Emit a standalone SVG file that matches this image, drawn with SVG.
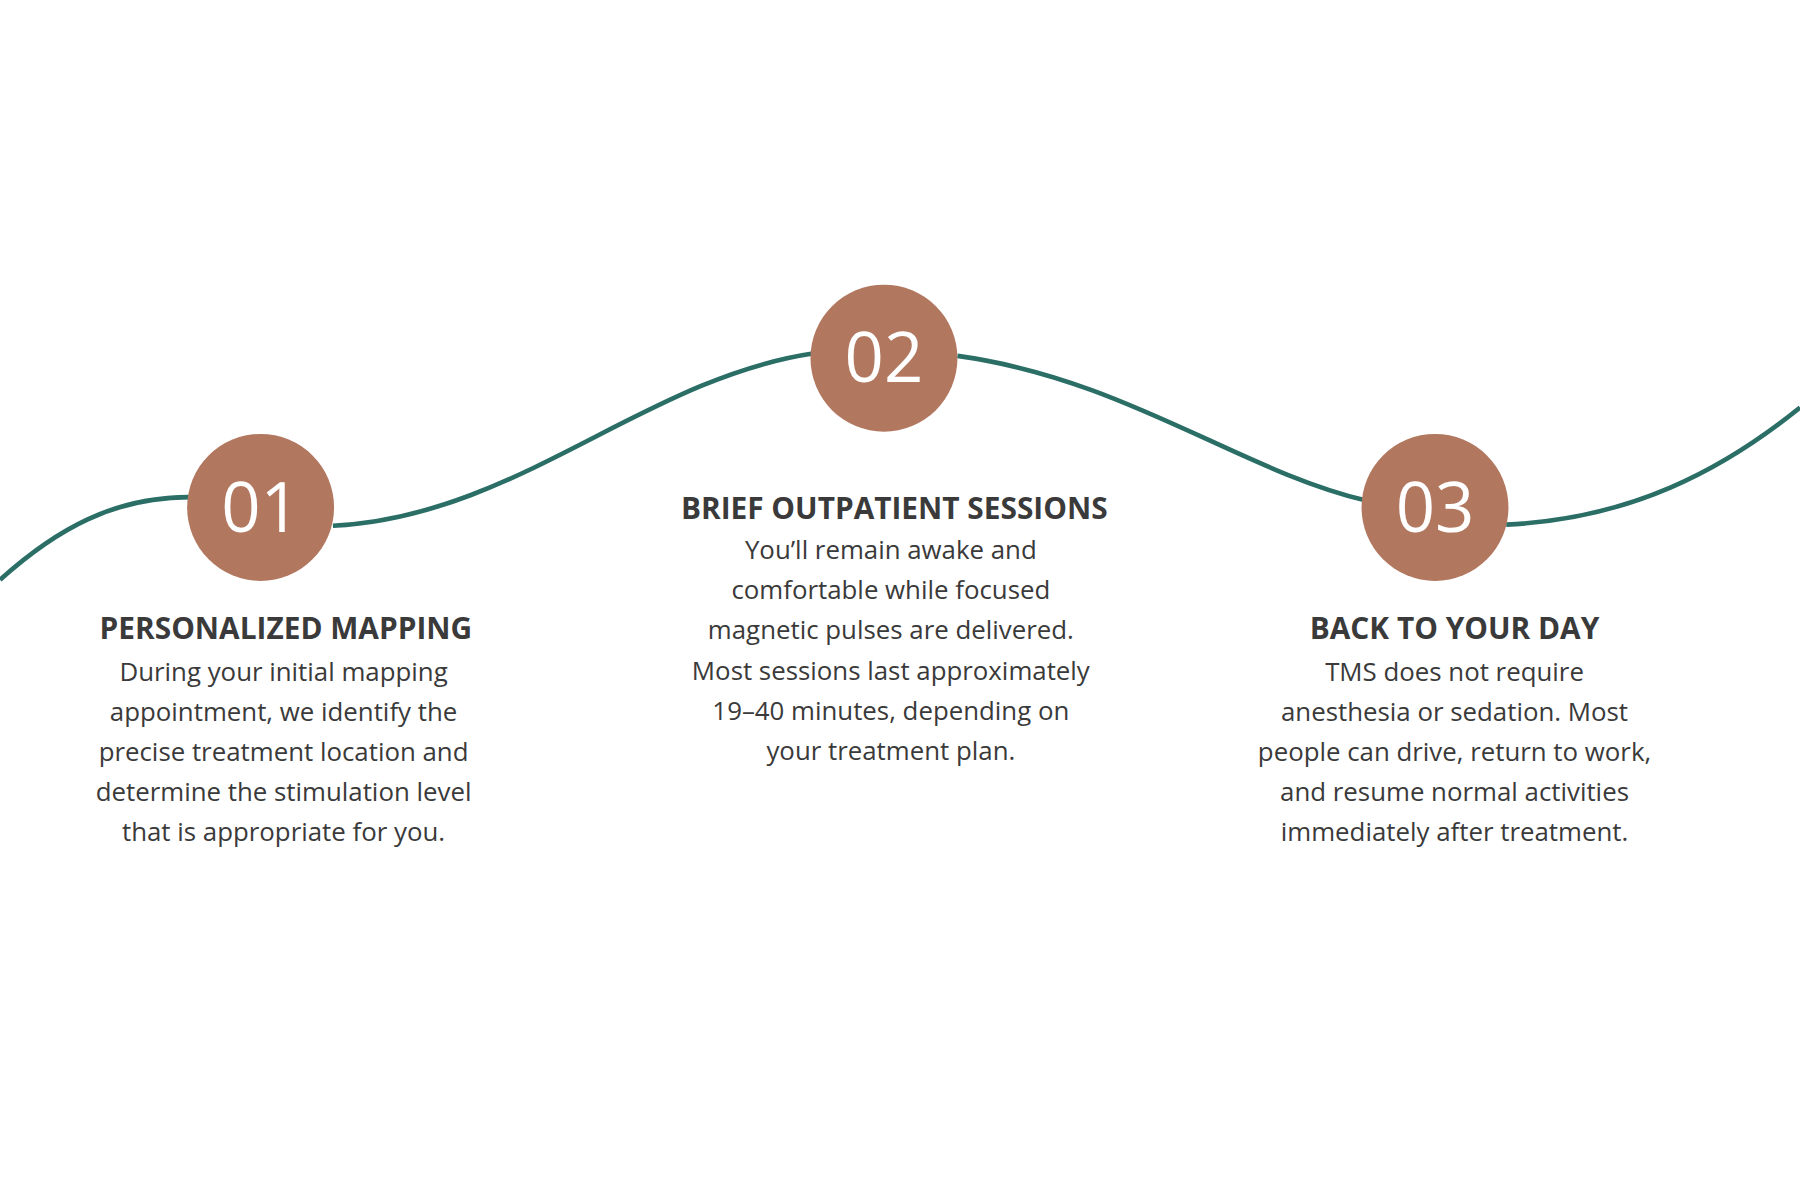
<svg xmlns="http://www.w3.org/2000/svg" width="1800" height="1200" viewBox="0 0 1800 1200">
<style>
.t{font-family:"Open Sans","Liberation Sans",sans-serif;font-weight:700;font-size:26px;fill:#3a3a3a;text-anchor:middle}
.b{font-family:"Open Sans","Liberation Sans",sans-serif;font-size:22.5px;fill:#3a3a3a;text-anchor:middle}
.n{font-family:"Open Sans","Liberation Sans",sans-serif;font-size:60px;fill:#fff;text-anchor:middle}
.c{fill:#b2775f}
</style>
<rect width="1800" height="1200" fill="#fff"/>
<g transform="scale(1.148)">
<g id="connectors" fill="none" stroke="#2a6e66" stroke-width="4">
<path d="M0,505 C50,460 100,433 165,433"/>
<path d="M290,458 C450,450 560,330 708,308"/>
<path d="M834,310 C980,330 1080,410 1190,436"/>
<path d="M1312,457 C1420,452 1500,410 1568,355"/>
</g>
<g id="node1">
<circle class="c" cx="227" cy="442" r="64"/>
<text class="n" x="227" y="463">01</text>
<text class="t" x="249" y="557">PERSONALIZED MAPPING</text>
<text class="b" x="247" y="593">During your initial mapping</text>
<text class="b" x="247" y="628">appointment, we identify the</text>
<text class="b" x="247" y="663">precise treatment location and</text>
<text class="b" x="247" y="698">determine the stimulation level</text>
<text class="b" x="247" y="733">that is appropriate for you.</text>
</g>
<g id="node2">
<circle class="c" cx="770" cy="312" r="64"/>
<text class="n" x="770" y="333">02</text>
<text class="t" x="779" y="452">BRIEF OUTPATIENT SESSIONS</text>
<text class="b" x="776" y="487">You’ll remain awake and</text>
<text class="b" x="776" y="522">comfortable while focused</text>
<text class="b" x="776" y="557">magnetic pulses are delivered.</text>
<text class="b" x="776" y="592">Most sessions last approximately</text>
<text class="b" x="776" y="627">19–40 minutes, depending on</text>
<text class="b" x="776" y="662">your treatment plan.</text>
</g>
<g id="node3">
<circle class="c" cx="1250" cy="442" r="64"/>
<text class="n" x="1250" y="463">03</text>
<text class="t" x="1267" y="557">BACK TO YOUR DAY</text>
<text class="b" x="1267" y="593">TMS does not require</text>
<text class="b" x="1267" y="628">anesthesia or sedation. Most</text>
<text class="b" x="1267" y="663">people can drive, return to work,</text>
<text class="b" x="1267" y="698">and resume normal activities</text>
<text class="b" x="1267" y="733">immediately after treatment.</text>
</g>
</g>
</svg>
